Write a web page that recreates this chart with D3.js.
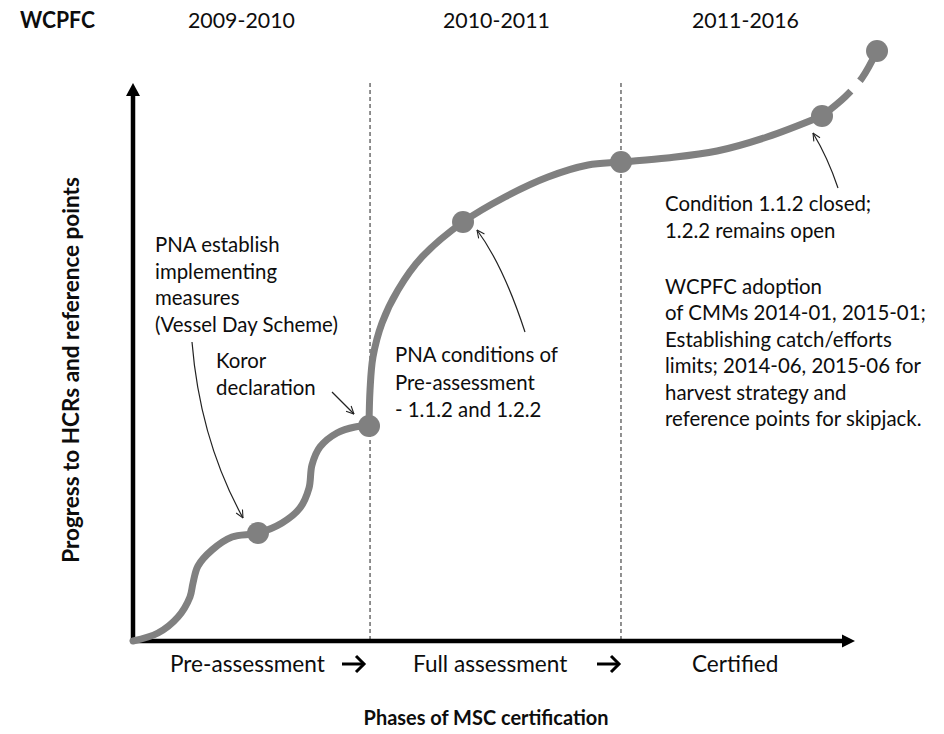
<!DOCTYPE html>
<html><head><meta charset="utf-8">
<script src="https://cdn.jsdelivr.net/npm/d3@7"></script>
<style>body{margin:0;background:#fff}svg{display:block}</style>
</head><body>
<script>
// ---------- data ----------
const periods = ["2009-2010", "2010-2011", "2011-2016"];
const phases = ["Pre-assessment", "Full assessment", "Certified"];
const phaseBounds = [32.83, 67.59];               // phase boundaries on the x axis (0-100)
// progress curve, traced (x: phase progress, y: progress to HCRs)
const pathEarly = [[0,0],[3.46,1.43],[6.23,4.30],[7.89,7.89],[8.31,10.39],[9.00,13.44],[10.94,16.31],
  [13.71,18.64],[17.31,19.35],[20.64,21.15],[23.13,23.84],[24.38,27.42],[24.79,31.54],[25.90,34.77],
  [28.25,37.28],[30.75,38.35],[32.69,38.53]];
const pathLate = [[32.69,38.53],[32.83,44.98],[33.24,50.90],[34.49,56.99],[36.70,62.90],[40.03,68.82],
  [45.71,75.09],[51.52,79.57],[57.48,83.15],[63.02,85.30],[67.59,85.84],[73.96,86.56],[80.89,87.81],
  [87.81,90.32],[95.43,94.09]];
const pathFuture = [[95.43,94.09],[98.61,97.49],[100.97,100.90],[103.05,105.73]];
const milestones = [[17.31,19.35],[32.69,38.53],[45.71,75.09],[67.59,85.84],[95.43,94.09],[103.05,105.73]];
const annotations = [
  {lines:["PNA establish","implementing","measures","(Vessel Day Scheme)"], x:155, y:252, dy:26.7},
  {lines:["Koror","declaration"], x:216, y:368, dy:27},
  {lines:["PNA conditions of","Pre-assessment","- 1.1.2 and 1.2.2"], x:395, y:362, dy:27.5},
  {lines:["Condition 1.1.2 closed;","1.2.2 remains open"], x:665, y:211, dy:27},
  {lines:["WCPFC adoption","of CMMs 2014-01, 2015-01;","Establishing catch/efforts",
          "limits; 2014-06, 2015-06 for","harvest strategy and","reference points for skipjack."], x:665, y:294, dy:26.4}
];

// ---------- layout ----------
const W = 944, H = 734;
const FONT = "Lato, 'Open Sans', sans-serif";
const GRAY = "#808080";
const svg = d3.select("body").append("svg").attr("width", W).attr("height", H);
const x = d3.scaleLinear().domain([0, 100]).range([133, 855]);
const y = d3.scaleLinear().domain([0, 100]).range([641, 83]);

function natural(str, weight, size) {
  const t = svg.append("text").attr("font-family", FONT).attr("font-weight", weight)
    .attr("font-size", size).text(str);
  const w = t.node().getComputedTextLength(); t.remove();
  return w;
}
// style: size (cap-height matched) + horizontal squeeze so a reference string has the target width
function style(refStr, weight, size, target) {
  return {size, weight, sx: Math.min(1, target / natural(refStr, weight, size))};
}
const stAnno = style("PNA conditions of", 400, 20.4, 163);
const stTop = style("2009-2010", 400, 22, 107);
const stBottom = style("Pre-assessment", 400, 22.6, 160);
const stWC = style("WCPFC", 700, 23, 75);
const stXT = style("Phases of MSC certification", 700, 20, 245);
const stYT = style("Progress to HCRs and reference points", 700, 22.5, 410);

function putText(str, st, tx, ty, extra, anchor) {
  return svg.append("text")
    .attr("transform", `translate(${tx},${ty})${extra || ""} scale(${st.sx},1)`)
    .attr("text-anchor", anchor || "start")
    .attr("font-family", FONT).attr("font-weight", st.weight).attr("font-size", st.size)
    .attr("fill", "#0d0d0d").text(str);
}

// markers
const defs = svg.append("defs");
defs.append("marker").attr("id", "open").attr("viewBox", "0 0 10 10").attr("refX", 9.5).attr("refY", 5)
  .attr("markerWidth", 9).attr("markerHeight", 9).attr("markerUnits", "userSpaceOnUse").attr("orient", "auto")
  .append("path").attr("d", "M1,1 L9.5,5 L1,9").attr("fill", "none").attr("stroke", "#222").attr("stroke-width", 1.2);

// phase boundaries
svg.selectAll(".bound").data(phaseBounds).enter().append("line")
  .attr("x1", d => x(d)).attr("x2", d => x(d)).attr("y1", y(100)).attr("y2", y(0))
  .attr("stroke", "#222").attr("stroke-width", 1).attr("stroke-dasharray", "4,3");

// axes
svg.append("line").attr("x1", x(0)).attr("x2", x(0)).attr("y1", y(0) + 2).attr("y2", y(100) + 10)
  .attr("stroke", "#000").attr("stroke-width", 4.5);
svg.append("path").attr("d", `M${x(0)},${y(100)} L${x(0) + 7},${y(100) + 13} L${x(0) - 7},${y(100) + 13} Z`).attr("fill", "#000");
svg.append("line").attr("x1", x(0) - 2).attr("x2", x(100) - 10).attr("y1", y(0)).attr("y2", y(0))
  .attr("stroke", "#000").attr("stroke-width", 4.5);
svg.append("path").attr("d", `M${x(100)},${y(0)} L${x(100) - 13},${y(0) - 6.5} L${x(100) - 13},${y(0) + 6.5} Z`).attr("fill", "#000");

// curve
const line = d3.line().x(d => x(d[0])).y(d => y(d[1])).curve(d3.curveCatmullRom.alpha(0.5));
svg.append("path").attr("d", line(pathEarly)).attr("fill", "none").attr("stroke", GRAY)
  .attr("stroke-width", 7).attr("stroke-linecap", "round");
svg.append("path").attr("d", line(pathLate)).attr("fill", "none").attr("stroke", GRAY)
  .attr("stroke-width", 7).attr("stroke-linecap", "round");
svg.append("path").attr("d", line(pathFuture)).attr("fill", "none").attr("stroke", GRAY)
  .attr("stroke-width", 7).attr("stroke-dasharray", "38,14");
svg.selectAll(".ms").data(milestones).enter().append("circle")
  .attr("cx", d => x(d[0])).attr("cy", d => y(d[1])).attr("r", 11).attr("fill", GRAY);

// annotation arrows
const arrows = [
  "M192,342 Q200,440 243,518",
  "M332,392 L354,414",
  "M525,332 Q503,265 477,230",
  "M838,188 Q828,158 813,133"
];
svg.selectAll(".arr").data(arrows).enter().append("path").attr("d", d => d)
  .attr("fill", "none").attr("stroke", "#222").attr("stroke-width", 1.2).attr("marker-end", "url(#open)");

// annotation texts
annotations.forEach(a => a.lines.forEach((s, i) => putText(s, stAnno, a.x, a.y + i * a.dy)));

// top row
putText("WCPFC", stWC, 20, 28);
const topX = [188, 443, 692];
periods.forEach((p, i) => putText(p, stTop, topX[i], 28));

// bottom phase labels
const botX = [170, 413, 692];
const arrowX = [342, 597];
phases.forEach((p, i) => putText(p, stBottom, botX[i], 672));
arrowX.forEach(ax => {
  svg.append("line").attr("x1", ax).attr("x2", ax + 21).attr("y1", 664).attr("y2", 664)
    .attr("stroke", "#000").attr("stroke-width", 3);
  svg.append("path").attr("d", `M${ax + 14},${656} L${ax + 22},${664} L${ax + 14},${672}`)
    .attr("fill", "none").attr("stroke", "#000").attr("stroke-width", 3);
});

// axis titles
putText("Phases of MSC certification", stXT, 486, 725, "", "middle");
putText("Progress to HCRs and reference points", stYT, 79, 370, " rotate(-90)", "middle");
</script>
</body></html>
